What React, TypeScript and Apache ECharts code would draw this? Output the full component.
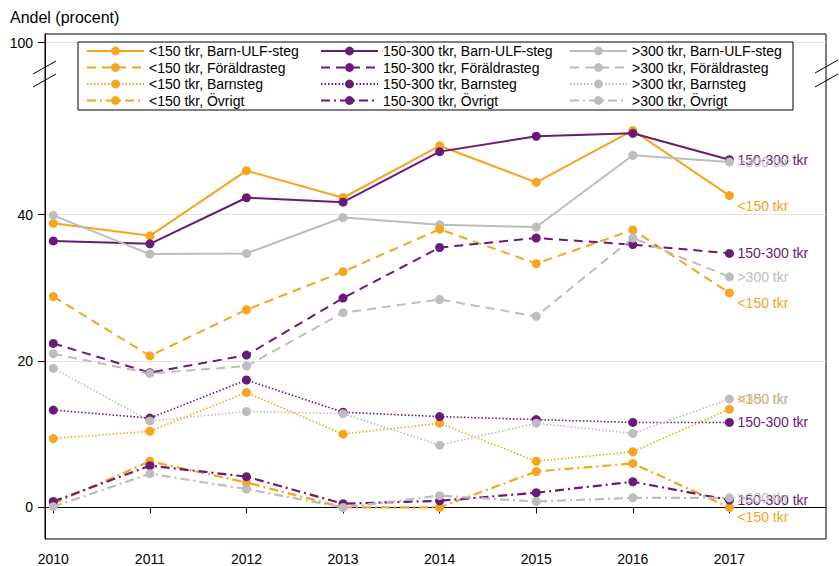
import React, { useEffect, useRef } from "react";
import * as echarts from "echarts";

// Survey years on the horizontal axis
const years = [2010, 2011, 2012, 2013, 2014, 2015, 2016, 2017];

// Share (percent) per income group and step type
const lt150BarnUlf = [38.8, 37.1, 46.0, 42.3, 49.4, 44.4, 51.5, 42.6];
const midBarnUlf = [36.4, 36.0, 42.3, 41.7, 48.6, 50.7, 51.1, 47.5];
const gt300BarnUlf = [39.9, 34.6, 34.7, 39.6, 38.6, 38.3, 48.1, 47.2];

const lt150Foraldra = [28.8, 20.7, 27.0, 32.2, 38.0, 33.3, 37.9, 29.3];
const midForaldra = [22.4, 18.4, 20.8, 28.6, 35.5, 36.8, 35.9, 34.7];
const gt300Foraldra = [21.0, 18.3, 19.3, 26.6, 28.4, 26.1, 36.8, 31.5];

const lt150Barnsteg = [9.4, 10.4, 15.7, 10.0, 11.5, 6.3, 7.6, 13.4];
const midBarnsteg = [13.3, 12.2, 17.4, 13.0, 12.4, 12.0, 11.6, 11.6];
const gt300Barnsteg = [19.0, 11.8, 13.1, 12.8, 8.5, 11.5, 10.1, 14.8];

const lt150Ovrigt = [0.5, 6.3, 3.4, 0.0, 0.0, 4.9, 6.0, 0.0];
const midOvrigt = [0.8, 5.7, 4.2, 0.5, 0.9, 2.0, 3.5, 1.0];
const gt300Ovrigt = [0.1, 4.6, 2.5, 0.0, 1.6, 0.8, 1.3, 1.3];

// Income groups and step types
const groupLabels = ["<150 tkr", "150-300 tkr", ">300 tkr"];
const stepLabels = ["Barn-ULF-steg", "Föräldrasteg", "Barnsteg", "Övrigt"];

// Y ticks: 0, 20, 40 and the broken-axis position for 100
const yTicks = [0, 20, 40];
const TOP_TICK_POS = 63.5;
const TOP_TICK_LABEL = "100";

const ORANGE = "#F6A51C";
const PURPLE = "#6A1B78";
const GRAY = "#BDBDBD";
const groupColors = [ORANGE, PURPLE, GRAY];

const stepValues = [
  [lt150BarnUlf, midBarnUlf, gt300BarnUlf],
  [lt150Foraldra, midForaldra, gt300Foraldra],
  [lt150Barnsteg, midBarnsteg, gt300Barnsteg],
  [lt150Ovrigt, midOvrigt, gt300Ovrigt],
];

const stepLine = [
  { type: "solid" as any, width: 2 },
  { type: [9, 6], width: 2 },
  { type: [1.5, 2], width: 1.6 },
  { type: [9, 4, 2, 4], width: 2.2 },
];

const FONT = "'Liberation Sans', Arial, Helvetica, sans-serif";

function seriesName(g: number, s: number) {
  return `${groupLabels[g]}, ${stepLabels[s]}`;
}

export default function App() {
  const ref = useRef<HTMLDivElement>(null);

  useEffect(() => {
    document.body.style.margin = "0";
    if (!ref.current) return;
    const chart = echarts.init(ref.current, undefined, { renderer: "svg" });

    const series: any[] = [];
    stepValues.forEach((groups, s) => {
      groups.forEach((vals, g) => {
        // orange end labels sit below the point, except for Barnsteg
        let dy = 0;
        if (g === 0) dy = s === 2 ? -10 : 10;
        series.push({
          name: seriesName(g, s),
          type: "line",
          data: years.map((y, i) => [y, vals[i]]),
          symbol: "circle",
          symbolSize: 9,
          showAllSymbol: true,
          itemStyle: { color: groupColors[g] },
          lineStyle: {
            color: groupColors[g],
            width: stepLine[s].width,
            type: stepLine[s].type,
            cap: "butt",
          },
          endLabel: {
            show: true,
            formatter: groupLabels[g],
            color: groupColors[g],
            fontSize: 14,
            fontFamily: FONT,
            distance: 8,
            offset: [0, dy],
          },
          emphasis: { disabled: true },
          z: 3,
        });
      });
    });

    const legendCols = [86, 320, 569].map((left, g) => ({
      show: true,
      orient: "vertical",
      left,
      top: 44,
      padding: 0,
      itemWidth: 57,
      itemHeight: 11,
      itemGap: 2.5,
      selectedMode: false,
      z: 8,
      textStyle: { fontSize: 14, color: "#000", fontFamily: FONT },
      data: stepLabels.map((_, s) => seriesName(g, s)),
    }));

    const breakLine = (x1: number, y1: number, x2: number, y2: number) => ({
      type: "line",
      shape: { x1, y1, x2, y2 },
      style: { stroke: "#000", lineWidth: 1 },
      z: 10,
    });

    chart.setOption({
      animation: false,
      textStyle: { fontFamily: FONT },
      title: {
        text: "Andel (procent)",
        left: 10,
        top: 9,
        padding: 0,
        textStyle: { fontSize: 16, fontWeight: "normal", color: "#000", fontFamily: FONT },
      },
      grid: {
        left: 45,
        right: 13,
        top: 34,
        bottom: 26,
        show: true,
        borderColor: "#000",
        borderWidth: 1,
        backgroundColor: "transparent",
      },
      legend: legendCols,
      xAxis: {
        type: "value",
        min: 2009.914,
        max: 2018,
        axisLine: { show: true, lineStyle: { color: "#000", width: 1 } },
        axisTick: { show: true, length: 6, customValues: years, lineStyle: { color: "#000" } },
        axisLabel: {
          customValues: years,
          formatter: (v: number) => String(v),
          fontSize: 14,
          color: "#000",
          margin: 13,
        },
        splitLine: { show: false },
      },
      yAxis: {
        type: "value",
        min: -4.32,
        max: 64.67,
        axisLine: { show: true, lineStyle: { color: "#000", width: 1 } },
        axisTick: {
          show: true,
          length: 7,
          customValues: [...yTicks, TOP_TICK_POS],
          lineStyle: { color: "#000" },
        },
        axisLabel: {
          customValues: [...yTicks, TOP_TICK_POS],
          formatter: (v: number) => (v === TOP_TICK_POS ? TOP_TICK_LABEL : String(v)),
          fontSize: 14,
          color: "#000",
          margin: 12,
        },
        splitLine: { show: true, lineStyle: { color: "#E3E3E3", width: 1 } },
      },
      graphic: [
        {
          type: "rect",
          shape: { x: 78, y: 42, width: 715, height: 68 },
          style: { fill: "#fff", stroke: "#000", lineWidth: 1 },
          z: 7,
        },
        breakLine(33, 74, 56, 61),
        breakLine(33, 87, 56, 74),
        breakLine(815, 73, 838, 60),
        breakLine(815, 87, 838, 74),
      ],
      series,
    });

    return () => chart.dispose();
  }, []);

  return <div ref={ref} style={{ width: 839, height: 566 }} />;
}
